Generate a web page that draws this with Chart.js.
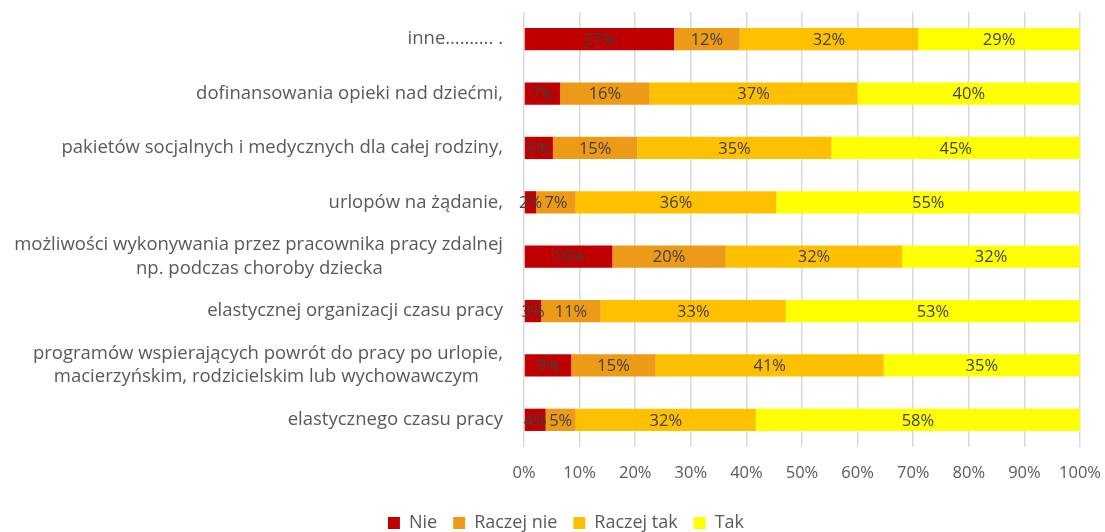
<!DOCTYPE html>
<html lang="pl">
<head>
    <meta charset="UTF-8">
    <title>Formy wsparcia</title>
    <script src="https://cdn.jsdelivr.net/npm/chart.js"></script>
    <style>
        body {
            margin: 0;
            padding: 0;
            background: #fff;
        }
        .chart-box {
            width: 1105px;
            height: 532px;
        }
    </style>
</head>
<body>
    <div class="chart-box">
        <canvas id="barChart"></canvas>
    </div>

    <script>
        const categories = [
            'inne………. .',
            'dofinansowania opieki nad dziećmi,',
            'pakietów socjalnych i medycznych dla całej rodziny,',
            'urlopów na żądanie,',
            ['możliwości wykonywania przez pracownika pracy zdalnej', 'np. podczas choroby dziecka'],
            'elastycznej organizacji czasu pracy',
            ['programów wspierających powrót do pracy po urlopie,', 'macierzyńskim, rodzicielskim lub wychowawczym'],
            'elastycznego czasu pracy'
        ];
        const nie = [27.0, 6.5, 5.2, 2.2, 15.9, 3.1, 8.5, 3.9];
        const raczejNie = [11.8, 16.1, 15.2, 7.1, 20.4, 10.7, 15.2, 5.4];
        const raczejTak = [32.1, 37.4, 34.9, 36.1, 31.7, 33.3, 41.0, 32.4];
        const tak = [29.1, 40.0, 44.7, 54.6, 32.0, 52.9, 35.3, 58.3];
        const xTicks = [0, 10, 20, 30, 40, 50, 60, 70, 80, 90, 100];

        const fontFamily = "'Open Sans', sans-serif";
        const labelFont = '18.5px ' + fontFamily;

        // Excel centres wrapped lines, Chart.js right-aligns them: pad the shorter line
        const measure = document.createElement('canvas').getContext('2d');
        measure.font = labelFont;
        function centerLines(label) {
            if (!Array.isArray(label)) return label;
            const widest = Math.max(...label.map(l => measure.measureText(l).width));
            const space = measure.measureText('\u00A0').width;
            return label.map(l => {
                const n = Math.round((widest - measure.measureText(l).width) / 2 / space);
                return l + '\u00A0'.repeat(n);
            });
        }

        // draws the value in the middle of every bar segment
        const valueLabels = {
            id: 'valueLabels',
            afterDatasetsDraw(chart) {
                const ctx = chart.ctx;
                ctx.save();
                ctx.font = '16.5px ' + fontFamily;
                ctx.fillStyle = '#404040';
                ctx.textAlign = 'center';
                ctx.textBaseline = 'middle';
                chart.data.datasets.forEach((ds, i) => {
                    chart.getDatasetMeta(i).data.forEach((bar, j) => {
                        const mid = (bar.x + bar.base) / 2;
                        ctx.fillText(Math.round(ds.data[j]) + '%', mid, bar.y + 1);
                    });
                });
                ctx.restore();
            }
        };

        // legend in the original sits a bit right of the page centre
        const legendShift = {
            id: 'legendShift',
            afterLayout(chart) {
                chart.legend.left += 52;
            }
        };

        const ctx = document.getElementById('barChart').getContext('2d');
        new Chart(ctx, {
            type: 'bar',
            data: {
                labels: categories.map(centerLines),
                datasets: [
                    { label: 'Nie', data: nie, backgroundColor: '#C00000' },
                    { label: 'Raczej nie', data: raczejNie, backgroundColor: '#ED9A17' },
                    { label: 'Raczej tak', data: raczejTak, backgroundColor: '#FFC000' },
                    { label: 'Tak', data: tak, backgroundColor: '#FFFF00' }
                ]
            },
            options: {
                indexAxis: 'y',
                responsive: true,
                maintainAspectRatio: false,
                animation: false,
                layout: {
                    padding: { top: 12, right: 25, left: 0, bottom: -10 }
                },
                datasets: {
                    bar: { categoryPercentage: 1, barPercentage: 0.41 }
                },
                scales: {
                    x: {
                        stacked: true,
                        min: 0,
                        max: 100,
                        afterBuildTicks(scale) {
                            scale.ticks = xTicks.map(v => ({ value: v }));
                        },
                        afterFit(scale) {
                            scale.height = 51;
                            scale.paddingLeft = 0;
                            scale.paddingRight = 0;
                        },
                        grid: { color: '#D9D9D9', lineWidth: 1.5, drawTicks: false },
                        border: { display: false },
                        ticks: {
                            padding: 16,
                            color: '#595959',
                            font: { family: fontFamily, size: 16.5 },
                            callback: v => v + '%'
                        }
                    },
                    y: {
                        stacked: true,
                        grid: { display: false, drawTicks: false },
                        border: { display: false },
                        afterFit(scale) {
                            scale.width = 524;
                            scale.paddingTop = 0;
                            scale.paddingBottom = 0;
                        },
                        ticks: {
                            padding: 21,
                            color: '#595959',
                            font: { family: fontFamily, size: 18.5, lineHeight: 1.25 }
                        }
                    }
                },
                plugins: {
                    legend: {
                        position: 'bottom',
                        labels: {
                            color: '#595959',
                            boxWidth: 12,
                            boxHeight: 12,
                            padding: 16,
                            font: { family: fontFamily, size: 18 }
                        }
                    },
                    tooltip: { enabled: false }
                }
            },
            plugins: [valueLabels, legendShift]
        });
    </script>
</body>
</html>
